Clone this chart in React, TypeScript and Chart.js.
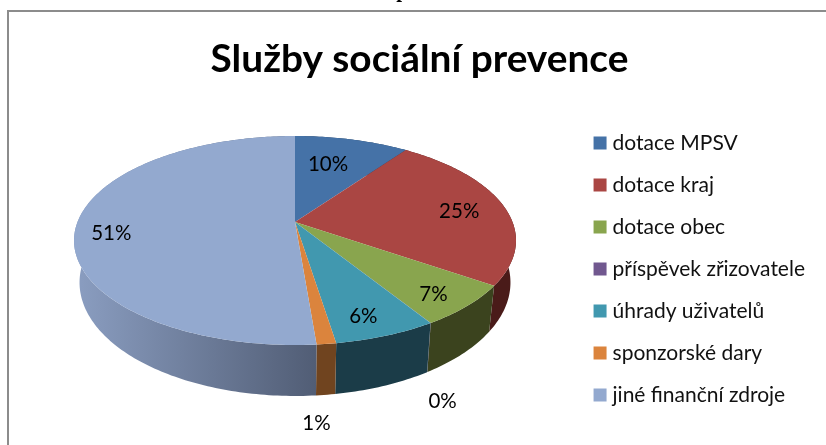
import React, { useEffect, useRef } from "react";
import { Chart, registerables } from "chart.js";

Chart.register(...registerables);

const titleText = "Služby sociální prevence";
const clippedHeadingText = "p";
const categories = [
  "dotace MPSV",
  "dotace kraj",
  "dotace obec",
  "příspěvek zřizovatele",
  "úhrady uživatelů",
  "sponzorské dary",
  "jiné finanční zdroje",
];
const values = [9.9, 24.7, 6.5, 0.02, 6.38, 1.2, 51.3];
const topColors = ["#4572A7", "#AA4643", "#89A54E", "#71588F", "#4198AF", "#DB843D", "#93A9CF"];
const sideColors = ["#28415F", "#4A1B19", "#3B431E", "#30253F", "#1B3C48", "#70441F", "#515D75"];
const sideLight = "#8A9DC0";
const labelRadii = [0.67, 0.77, 0.85, 1, 0.85, 1, 0.84];
const labelShiftX = [-7, 3, -5, 12, -7, -10, 0];
const labelShiftY = [0, 2, 3, 78, 1, 79, 8];

// Perspective model of the tilted disc
const view = { cx: 295, cy: 222, a: 217.5, b: 101.2, k: 0.177, shrink: 0.975, d0: 51, dy: 0.086, yRef: 345 };
const legendShift = { x: 7, y: 28.5 };

function rim(theta: number, r = 1) {
  const u = Math.sin(theta) * r;
  const v = -Math.cos(theta) * r;
  const d = 1 - view.k * v;
  return { x: view.cx + (view.a * u) / d, y: view.cy + (view.b * v) / d };
}
function base(theta: number) {
  const p = rim(theta);
  return {
    x: view.cx + (p.x - view.cx) * view.shrink,
    y: p.y + view.d0 - (view.yRef - p.y) * view.dy,
  };
}

const disc3d = {
  id: "disc3d",
  afterLayout(chart: any) {
    const l = chart.legend;
    l.left += legendShift.x;
    l.right += legendShift.x;
    l.top += legendShift.y;
    l.bottom += legendShift.y;
  },
  beforeDatasetsDraw(chart: any) {
    const ctx = chart.ctx;
    const arcs = chart.getDatasetMeta(0).data;
    const span = (i: number) => [arcs[i].startAngle + Math.PI / 2, arcs[i].endAngle + Math.PI / 2];
    ctx.save();
    // side wall
    arcs.forEach((_: any, i: number) => {
      const [a, b] = span(i);
      const n = Math.max(2, Math.ceil((b - a) * 60));
      ctx.beginPath();
      for (let j = 0; j <= n; j++) {
        const p = rim(a + ((b - a) * j) / n);
        j ? ctx.lineTo(p.x, p.y) : ctx.moveTo(p.x, p.y);
      }
      for (let j = n; j >= 0; j--) {
        const p = base(a + ((b - a) * j) / n);
        ctx.lineTo(p.x, p.y);
      }
      ctx.closePath();
      if (i === arcs.length - 1) {
        const g = ctx.createLinearGradient(view.cx - view.a, 0, rim(a).x, 0);
        g.addColorStop(0, sideLight);
        g.addColorStop(1, sideColors[i]);
        ctx.fillStyle = g;
      } else {
        ctx.fillStyle = sideColors[i];
      }
      ctx.fill();
    });
    // top face
    arcs.forEach((_: any, i: number) => {
      const [a, b] = span(i);
      const n = Math.max(2, Math.ceil((b - a) * 60));
      ctx.beginPath();
      ctx.moveTo(view.cx, view.cy);
      for (let j = 0; j <= n; j++) {
        const p = rim(a + ((b - a) * j) / n);
        ctx.lineTo(p.x, p.y);
      }
      ctx.closePath();
      ctx.fillStyle = topColors[i];
      ctx.fill();
    });
    // percentage labels
    ctx.fillStyle = "#000";
    ctx.font = "20.5px Lato";
    ctx.textAlign = "center";
    ctx.textBaseline = "middle";
    arcs.forEach((_: any, i: number) => {
      const [a, b] = span(i);
      const p = rim((a + b) / 2, labelRadii[i]);
      ctx.fillText(`${Math.round(values[i])}%`, p.x + labelShiftX[i], p.y + labelShiftY[i]);
    });
    ctx.restore();
    return false;
  },
  beforeDraw(chart: any) {
    const ctx = chart.ctx;
    ctx.save();
    ctx.strokeStyle = "#8c8c8c";
    ctx.lineWidth = 2;
    ctx.beginPath();
    ctx.moveTo(8, 445);
    ctx.lineTo(8, 11);
    ctx.lineTo(826, 11);
    ctx.stroke();
    ctx.fillStyle = "#000";
    ctx.font = 'bold 21px "Liberation Serif"';
    ctx.textAlign = "center";
    ctx.textBaseline = "alphabetic";
    ctx.fillText(clippedHeadingText, 402, -3);
    ctx.restore();
  },
};

export default function App() {
  const ref = useRef<HTMLCanvasElement>(null);
  useEffect(() => {
    const chart = new Chart(ref.current!, {
      type: "pie",
      data: {
        labels: categories,
        datasets: [{ data: values, backgroundColor: topColors, borderWidth: 0 }],
      },
      options: {
        animation: false,
        responsive: false,
        layout: { padding: { left: 31, right: 18, top: 36, bottom: 0 } },
        plugins: {
          tooltip: { enabled: false },
          title: {
            display: true,
            text: titleText,
            color: "#000",
            font: { family: "Lato", size: 38.8, weight: "bold" },
            padding: { top: 0, bottom: 30 },
          },
          legend: {
            position: "right",
            labels: {
              boxWidth: 4,
              boxHeight: 4,
              padding: 21,
              color: "#111",
              font: { family: "Lato", size: 21 },
              generateLabels: (chart: any) =>
                categories.map((text, i) => ({
                  text,
                  index: i,
                  fillStyle: topColors[i],
                  strokeStyle: topColors[i],
                  lineWidth: 9,
                  fontColor: "#111",
                })),
            },
          },
        },
      },
      plugins: [disc3d],
    } as any);
    return () => chart.destroy();
  }, []);
  return (
    <div style={{ position: "fixed", left: 0, top: 0, width: 826, height: 445, background: "#fff" }}>
      <canvas ref={ref} width={826} height={445} style={{ display: "block" }} />
    </div>
  );
}
